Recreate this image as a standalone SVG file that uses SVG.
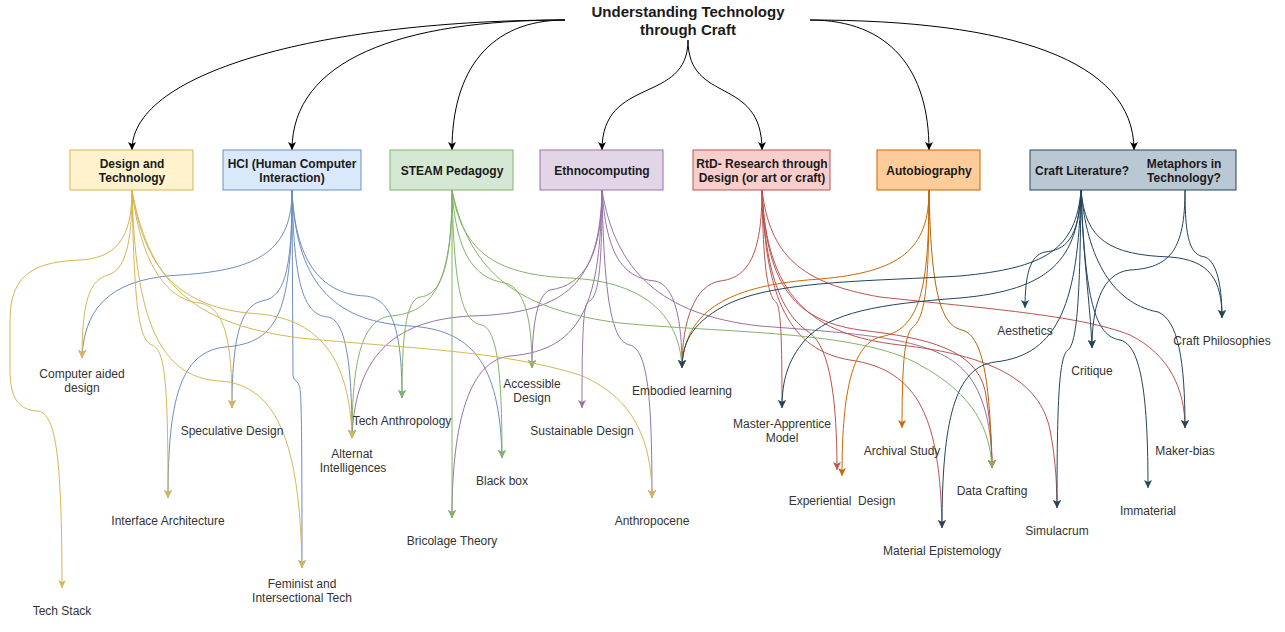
<svg xmlns="http://www.w3.org/2000/svg" width="1285" height="632" viewBox="0 0 1285 632">
<style>
.e{fill:none;stroke-width:1}
.k{stroke:#000}.y{stroke:#d6b656}.b{stroke:#6c8ebf}.g{stroke:#82b366}.p{stroke:#9673a6}.r{stroke:#b85450}.o{stroke:#cc6600}.ob{stroke:#b46504}.d{stroke:#23445d}
.nt{font-family:"Liberation Sans",Arial,sans-serif;font-size:12px;font-weight:bold;fill:#1a1a1a;text-anchor:middle}
.lt{font-family:"Liberation Sans",Arial,sans-serif;font-size:12px;fill:#333;text-anchor:middle}
.tt{font-family:"Liberation Sans",Arial,sans-serif;font-size:15px;font-weight:bold;fill:#1a1a1a;text-anchor:middle}
</style>
<defs>
<marker id="mk" markerUnits="userSpaceOnUse" markerWidth="10" markerHeight="10" refX="8" refY="4" orient="auto"><path d="M0,0 L8,4 L0,8 L2,4 Z" fill="#000"/></marker>
<marker id="my" markerUnits="userSpaceOnUse" markerWidth="10" markerHeight="10" refX="8" refY="4" orient="auto"><path d="M0,0 L8,4 L0,8 L2,4 Z" fill="#d6b656"/></marker>
<marker id="mb" markerUnits="userSpaceOnUse" markerWidth="10" markerHeight="10" refX="8" refY="4" orient="auto"><path d="M0,0 L8,4 L0,8 L2,4 Z" fill="#6c8ebf"/></marker>
<marker id="mg" markerUnits="userSpaceOnUse" markerWidth="10" markerHeight="10" refX="8" refY="4" orient="auto"><path d="M0,0 L8,4 L0,8 L2,4 Z" fill="#82b366"/></marker>
<marker id="mp" markerUnits="userSpaceOnUse" markerWidth="10" markerHeight="10" refX="8" refY="4" orient="auto"><path d="M0,0 L8,4 L0,8 L2,4 Z" fill="#9673a6"/></marker>
<marker id="mr" markerUnits="userSpaceOnUse" markerWidth="10" markerHeight="10" refX="8" refY="4" orient="auto"><path d="M0,0 L8,4 L0,8 L2,4 Z" fill="#b85450"/></marker>
<marker id="mo" markerUnits="userSpaceOnUse" markerWidth="10" markerHeight="10" refX="8" refY="4" orient="auto"><path d="M0,0 L8,4 L0,8 L2,4 Z" fill="#cc6600"/></marker>
<marker id="mob" markerUnits="userSpaceOnUse" markerWidth="10" markerHeight="10" refX="8" refY="4" orient="auto"><path d="M0,0 L8,4 L0,8 L2,4 Z" fill="#b46504"/></marker>
<marker id="md" markerUnits="userSpaceOnUse" markerWidth="10" markerHeight="10" refX="8" refY="4" orient="auto"><path d="M0,0 L8,4 L0,8 L2,4 Z" fill="#23445d"/></marker>
</defs>
<rect width="1285" height="632" fill="#fff"/>
<g id="connectors">
<path class="e k" marker-end="url(#mk)" d="M565,20 C330,20 132,70 132,150"/>
<path class="e k" marker-end="url(#mk)" d="M565,20 C400,20 292,60 292,150"/>
<path class="e k" marker-end="url(#mk)" d="M565,20 C490,20 452,70 452,150"/>
<path class="e k" marker-end="url(#mk)" d="M688,40 C688,105 602,75 602,150"/>
<path class="e k" marker-end="url(#mk)" d="M688,40 C688,105 762,75 762,150"/>
<path class="e k" marker-end="url(#mk)" d="M810,20 C890,20 929,70 929,150"/>
<path class="e k" marker-end="url(#mk)" d="M810,20 C1010,20 1134,60 1134,150"/>
<path class="e b" marker-end="url(#mb)" d="M292,190 C292,250 260,270 180,275 C120,278 84,300 82,358"/>
<path class="e b" marker-end="url(#mb)" d="M292,190 C292,270 285,297 262,301 C240,306 232,340 232,408"/>
<path class="e b" marker-end="url(#mb)" d="M292,190 C292,310 280,343 225,347 C180,352 168,400 168,498"/>
<path class="e b" marker-end="url(#mb)" d="M292,190 L293,375 C293,380 297,380 299,385 C301,390 302,400 302,568"/>
<path class="e b" marker-end="url(#mb)" d="M292,190 C294,280 302,315 328,317 C345,320 352,360 352,438"/>
<path class="e b" marker-end="url(#mb)" d="M292,190 C295,260 320,294 365,296 C395,298 402,340 402,398"/>
<path class="e b" marker-end="url(#mb)" d="M292,190 C296,290 340,322 410,326 C470,330 500,360 502,458"/>
<path class="e p" marker-end="url(#mp)" d="M602,190 C600,280 570,314 470,316 C400,320 355,350 352,438"/>
<path class="e p" marker-end="url(#mp)" d="M602,190 C600,300 585,350 510,356 C470,360 452,420 452,518"/>
<path class="e p" marker-end="url(#mp)" d="M602,190 C602,255 585,285 550,290 C536,295 532,330 532,368"/>
<path class="e p" marker-end="url(#mp)" d="M602,190 C602,275 598,298 588,302 C583,306 582,340 582,408"/>
<path class="e p" marker-end="url(#mp)" d="M602,190 C604,300 612,342 630,345 C648,350 652,400 652,498"/>
<path class="e p" marker-end="url(#mp)" d="M602,190 C606,250 620,278 655,281 C675,285 682,320 682,368"/>
<path class="e p" marker-end="url(#mp)" d="M602,190 C615,270 660,315 760,326 C880,335 940,340 968,375 C988,400 992,440 992,468"/>
<path class="e r" marker-end="url(#mr)" d="M762,190 C762,255 748,278 720,281 C695,285 682,320 682,368"/>
<path class="e r" marker-end="url(#mr)" d="M762,190 C763,280 770,298 776,302 C781,308 782,340 782,408"/>
<path class="e r" marker-end="url(#mr)" d="M762,190 C765,290 790,320 810,333 C830,348 837,400 837,470"/>
<path class="e r" marker-end="url(#mr)" d="M762,190 C765,300 790,350 850,360 C920,370 940,420 942,528"/>
<path class="e r" marker-end="url(#mr)" d="M762,190 C766,295 810,335 900,345 C990,355 1040,380 1050,430 C1056,460 1057,490 1057,508"/>
<path class="e r" marker-end="url(#mr)" d="M762,190 C766,280 790,320 860,330 C930,338 975,350 985,390 C990,420 992,440 992,468"/>
<path class="e r" marker-end="url(#mr)" d="M762,190 C770,255 800,283 880,297 C980,308 1080,315 1130,335 C1170,355 1185,390 1185,428"/>
<path class="e o" marker-end="url(#mo)" d="M929,190 C929,250 900,272 820,279 C730,285 684,310 682,368"/>
<path class="e o" marker-end="url(#mo)" d="M929,190 C929,290 920,330 880,337 C850,345 842,400 842,476"/>
<path class="e o" marker-end="url(#mo)" d="M929,190 C929,290 925,318 912,328 C904,336 902,370 902,428"/>
<path class="e ob" marker-end="url(#mob)" d="M929,190 C931,290 940,325 962,330 C985,336 990,390 992,468"/>
<path class="e g" marker-end="url(#mg)" d="M452,190 L452,518"/>
<path class="e g" marker-end="url(#mg)" d="M452,190 C452,270 440,295 420,297 C405,300 402,340 402,398"/>
<path class="e g" marker-end="url(#mg)" d="M452,190 C452,280 435,313 390,316 C362,320 352,360 352,438"/>
<path class="e g" marker-end="url(#mg)" d="M452,190 C454,290 462,322 482,325 C497,330 502,370 502,458"/>
<path class="e g" marker-end="url(#mg)" d="M452,190 C456,250 472,278 505,283 C525,288 532,320 532,368"/>
<path class="e g" marker-end="url(#mg)" d="M452,190 C462,255 500,275 570,278 C650,282 680,320 682,368"/>
<path class="e g" marker-end="url(#mg)" d="M452,190 C470,275 520,310 620,323 C720,333 860,330 920,365 C975,395 990,430 992,468"/>
<path class="e y" marker-end="url(#my)" d="M132,190 C132,240 115,258 80,260 C40,262 10,270 10,320 L10,370 C10,400 20,410 37,411 C55,412 62,450 62,588"/>
<path class="e y" marker-end="url(#my)" d="M132,190 C132,245 125,270 108,275 C90,280 82,300 82,358"/>
<path class="e y" marker-end="url(#my)" d="M132,190 C134,300 138,340 152,345 C165,350 168,380 168,498"/>
<path class="e y" marker-end="url(#my)" d="M132,190 C140,260 165,300 200,303 C225,308 232,340 232,408"/>
<path class="e y" marker-end="url(#my)" d="M132,190 C135,320 160,378 220,381 C280,385 300,450 302,568"/>
<path class="e y" marker-end="url(#my)" d="M132,190 C145,280 190,310 260,314 C320,320 350,360 352,438"/>
<path class="e y" marker-end="url(#my)" d="M132,190 C150,290 200,325 300,338 C400,348 500,350 580,375 C640,400 652,450 652,498"/>
<path class="e d" marker-end="url(#md)" d="M1081,190 C1076,250 1045,268 960,276 C880,281 780,280 730,303 C695,320 682,340 682,368"/>
<path class="e d" marker-end="url(#md)" d="M1081,190 C1079,240 1065,250 1045,252 C1030,255 1025,275 1025,308"/>
<path class="e d" marker-end="url(#md)" d="M1081,190 C1078,260 1050,290 960,298 C880,304 830,312 805,340 C788,360 782,380 782,408"/>
<path class="e d" marker-end="url(#md)" d="M1081,190 C1078,300 1060,355 995,362 C955,367 942,420 942,528"/>
<path class="e d" marker-end="url(#md)" d="M1081,190 C1080,300 1077,343 1068,350 C1059,356 1057,400 1057,508"/>
<path class="e d" marker-end="url(#md)" d="M1081,190 C1083,260 1090,300 1092,348"/>
<path class="e d" marker-end="url(#md)" d="M1081,190 C1085,300 1095,336 1120,340 C1142,345 1148,400 1148,488"/>
<path class="e d" marker-end="url(#md)" d="M1081,190 C1088,270 1120,305 1158,312 C1178,320 1185,360 1185,428"/>
<path class="e d" marker-end="url(#md)" d="M1081,190 C1085,240 1110,255 1170,257 C1210,260 1222,280 1222,318"/>
<path class="e d" marker-end="url(#md)" d="M1185,190 C1185,240 1190,255 1205,257 C1218,262 1222,290 1222,318"/>
<path class="e d" marker-end="url(#md)" d="M1185,190 C1185,250 1170,268 1130,270 C1100,273 1092,310 1092,348"/>
</g>
<g id="title"><text class="tt" x="688" y="17">Understanding Technology</text><text class="tt" x="688" y="35">through Craft</text></g>
<g id="design-tech"><rect x="70" y="150" width="123" height="40" fill="#fff2cc" stroke="#d6b656"/><text class="nt" x="132" y="168">Design and</text><text class="nt" x="132" y="182">Technology</text></g>
<g id="hci"><rect x="223" y="150" width="138" height="40" fill="#dae8fc" stroke="#6c8ebf"/><text class="nt" x="292" y="168">HCI (Human Computer</text><text class="nt" x="292" y="182">Interaction)</text></g>
<g id="steam"><rect x="390" y="150" width="123" height="40" fill="#d5e8d4" stroke="#82b366"/><text class="nt" x="452" y="175">STEAM Pedagogy</text></g>
<g id="ethno"><rect x="540" y="150" width="123" height="40" fill="#e1d5e7" stroke="#9673a6"/><text class="nt" x="602" y="175">Ethnocomputing</text></g>
<g id="rtd"><rect x="693" y="150" width="137" height="40" fill="#f8cecc" stroke="#b85450"/><text class="nt" x="762" y="168">RtD- Research through</text><text class="nt" x="762" y="182">Design (or art or craft)</text></g>
<g id="autobio"><rect x="877" y="150" width="103" height="40" fill="#ffcc99" stroke="#cc6600"/><text class="nt" x="929" y="175">Autobiography</text></g>
<g id="craftlit"><rect x="1030" y="150" width="206" height="40" fill="#bac8d3" stroke="#23445d"/><text class="nt" x="1082" y="175">Craft Literature?</text><text class="nt" x="1184" y="168">Metaphors in</text><text class="nt" x="1184" y="182">Technology?</text></g>
<g id="cad"><text class="lt" x="82" y="378">Computer aided</text><text class="lt" x="82" y="392">design</text></g>
<g id="techstack"><text class="lt" x="62" y="615">Tech Stack</text></g>
<g id="interface"><text class="lt" x="168" y="525">Interface Architecture</text></g>
<g id="speculative"><text class="lt" x="232" y="435">Speculative Design</text></g>
<g id="feminist"><text class="lt" x="302" y="588">Feminist and</text><text class="lt" x="302" y="602">Intersectional Tech</text></g>
<g id="alternat"><text class="lt" x="352" y="458">Alternat</text><text class="lt" x="353" y="472">Intelligences</text></g>
<g id="techanthro"><text class="lt" x="402" y="425">Tech Anthropology</text></g>
<g id="bricolage"><text class="lt" x="452" y="545">Bricolage Theory</text></g>
<g id="blackbox"><text class="lt" x="502" y="485">Black box</text></g>
<g id="accessible"><text class="lt" x="532" y="388">Accessible</text><text class="lt" x="532" y="402">Design</text></g>
<g id="sustainable"><text class="lt" x="582" y="435">Sustainable Design</text></g>
<g id="anthropocene"><text class="lt" x="652" y="525">Anthropocene</text></g>
<g id="embodied"><text class="lt" x="682" y="395">Embodied learning</text></g>
<g id="master"><text class="lt" x="782" y="428">Master-Apprentice</text><text class="lt" x="782" y="442">Model</text></g>
<g id="experiential"><text class="lt" x="842" y="505" xml:space="preserve">Experiential  Design</text></g>
<g id="archival"><text class="lt" x="902" y="455">Archival Study</text></g>
<g id="datacrafting"><text class="lt" x="992" y="495">Data Crafting</text></g>
<g id="material"><text class="lt" x="942" y="555">Material Epistemology</text></g>
<g id="simulacrum"><text class="lt" x="1057" y="535">Simulacrum</text></g>
<g id="immaterial"><text class="lt" x="1148" y="515">Immaterial</text></g>
<g id="makerbias"><text class="lt" x="1185" y="455">Maker-bias</text></g>
<g id="aesthetics"><text class="lt" x="1025" y="335">Aesthetics</text></g>
<g id="critique"><text class="lt" x="1092" y="375">Critique</text></g>
<g id="craftphil"><text class="lt" x="1222" y="345">Craft Philosophies</text></g>
</svg>
